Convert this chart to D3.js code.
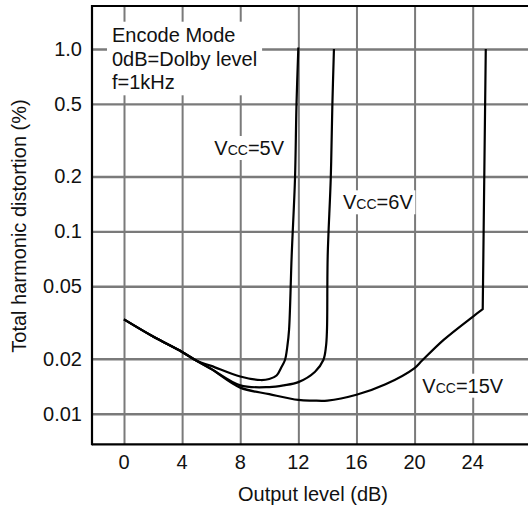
<!DOCTYPE html>
<html>
<head>
<meta charset="utf-8">
<script src="https://cdn.jsdelivr.net/npm/d3@7"></script>
<style>
  html, body { margin: 0; padding: 0; background: #fff; }
  svg { display: block; font-family: "Liberation Sans", Arial, sans-serif; }
</style>
</head>
<body>
<svg id="chart" width="528" height="511"></svg>
<script>
// ---- data ----
const xTicks = [0, 4, 8, 12, 16, 20, 24];
const yTicks = [0.01, 0.02, 0.05, 0.1, 0.2, 0.5, 1.0];
const yTickLabels = ["0.01", "0.02", "0.05", "0.1", "0.2", "0.5", "1.0"];

const db5  = [0, 2, 4, 5, 6, 8, 9.4, 10, 10.5, 10.85, 11.08, 11.24, 11.36, 11.54, 11.77, 11.87, 12.0];
const thd5 = [0.0329, 0.0265, 0.0218, 0.0195, 0.0183, 0.0160, 0.0153, 0.0155, 0.0162, 0.0181, 0.0197, 0.0233, 0.0288, 0.0733, 0.195, 0.49, 1.02];

const db6  = [0, 2, 4, 5, 6, 8, 10, 11, 12, 13.15, 13.72, 13.9, 13.97, 14.02, 14.23, 14.34, 14.45];
const thd6 = [0.0329, 0.0265, 0.0218, 0.0195, 0.0176, 0.0143, 0.0140, 0.0143, 0.0149, 0.0170, 0.0197, 0.0233, 0.0288, 0.0733, 0.195, 0.49, 1.0];

const db15  = [0, 2, 4, 5, 6, 8, 10, 12, 13, 14, 16, 18, 20, 20.5, 22, 24, 24.69, 24.9];
const thd15 = [0.0329, 0.0265, 0.0218, 0.0195, 0.0176, 0.0139, 0.0128, 0.0119, 0.0118, 0.0118, 0.0127, 0.0145, 0.0178, 0.0195, 0.0254, 0.034, 0.0374, 1.0];

const noteLines = ["Encode Mode", "0dB=Dolby level", "f=1kHz"];
const xTitle = "Output level (dB)";
const yTitle = "Total harmonic distortion (%)";

// ---- layout ----
const svg = d3.select("#chart");
const frameLeft = 92, frameTop = 6, frameBottom = 444.3, frameRight = 528;
const xs = d3.scaleLinear().domain([0, 24]).range([124, 472.7]);
const ys = d3.scaleLog().domain([0.01, 1]).range([413.7, 49]);

// vertical grid via axis
const gridX = svg.append("g").attr("transform", `translate(0,${frameTop})`)
  .call(d3.axisBottom(xs).tickValues(xTicks).tickSize(frameBottom - frameTop).tickFormat(""));
gridX.select(".domain").remove();
gridX.selectAll(".tick line").attr("stroke", "#7a7a7a").attr("stroke-width", 2);

// horizontal grid via axis (same styling that renders for the vertical grid)
const gridY = svg.append("g").attr("transform", `translate(${frameLeft},0)`)
  .call(d3.axisRight(ys).tickValues(yTicks).tickSize(frameRight - frameLeft).tickFormat(""));
gridY.select(".domain").remove();
gridY.selectAll(".tick line").attr("stroke", "#7a7a7a").attr("stroke-width", 2.4);

// curves
const lineGen = d3.line().x(d => xs(d[0])).y(d => ys(d[1])).curve(d3.curveCatmullRom.alpha(0.5));
function drawCurve(xv, yv, sharpLast) {
  const pts = xv.map((v, i) => [v, yv[i]]);
  let dStr;
  if (sharpLast) {
    const last = pts[pts.length - 1];
    dStr = lineGen(pts.slice(0, -1)) + "L" + xs(last[0]) + "," + ys(last[1]);
  } else {
    dStr = lineGen(pts);
  }
  svg.append("path").attr("d", dStr)
    .attr("fill", "none").attr("stroke", "#000").attr("stroke-width", 2.2)
    .attr("stroke-linejoin", "round");
}
drawCurve(db15, thd15, true);
drawCurve(db6, thd6, false);
drawCurve(db5, thd5, false);

// frame (left, top, bottom)
const frame = svg.append("g").attr("stroke", "#000").attr("stroke-width", 2.2);
frame.append("line").attr("x1", frameLeft).attr("x2", frameLeft).attr("y1", frameTop - 1).attr("y2", frameBottom + 1);
frame.append("line").attr("x1", frameLeft).attr("x2", frameRight).attr("y1", frameTop).attr("y2", frameTop);
frame.append("line").attr("x1", frameLeft).attr("x2", frameRight).attr("y1", frameBottom).attr("y2", frameBottom);

// label helper with white background
function boxedText(g, padX, padY) {
  const bb = g.node().getBBox();
  g.insert("rect", ":first-child")
    .attr("x", bb.x - padX).attr("y", bb.y - padY)
    .attr("width", bb.width + 2 * padX).attr("height", bb.height + 2 * padY)
    .attr("fill", "#fff");
}

// note block
const noteG = svg.append("g");
noteG.selectAll("text").data(noteLines).enter().append("text")
  .attr("x", 112).attr("y", (d, i) => 41.7 + i * 23.8)
  .attr("font-size", 20).attr("fill", "#111").text(d => d);
boxedText(noteG, 5, 2);

// Vcc labels
function vccLabel(px, py, tail) {
  const g = svg.append("g");
  const t = g.append("text").attr("x", px).attr("y", py).attr("font-size", 20).attr("fill", "#111");
  t.append("tspan").text("V");
  t.append("tspan").attr("font-size", 14).text("CC");
  t.append("tspan").text(tail);
  boxedText(g, 2, 1);
}
vccLabel(214.3, 155, "=5V");
vccLabel(343, 209.3, "=6V");
vccLabel(422.3, 392.7, "=15V");

// tick labels
svg.selectAll("text.yt").data(yTicks).enter().append("text").attr("class", "yt")
  .attr("x", 82).attr("y", d => ys(d)).attr("dy", "0.35em")
  .attr("text-anchor", "end").attr("font-size", 20).attr("fill", "#111")
  .text((d, i) => yTickLabels[i]);
svg.selectAll("text.xt").data(xTicks).enter().append("text").attr("class", "xt")
  .attr("x", d => xs(d)).attr("y", 469)
  .attr("text-anchor", "middle").attr("font-size", 20).attr("fill", "#111")
  .text(d => d);

// axis titles
svg.append("text").attr("x", 313).attr("y", 501)
  .attr("text-anchor", "middle").attr("font-size", 20).attr("fill", "#111").text(xTitle);
svg.append("text").attr("transform", "translate(26,226) rotate(-90)")
  .attr("text-anchor", "middle").attr("font-size", 20).attr("fill", "#111").text(yTitle);
</script>
</body>
</html>
